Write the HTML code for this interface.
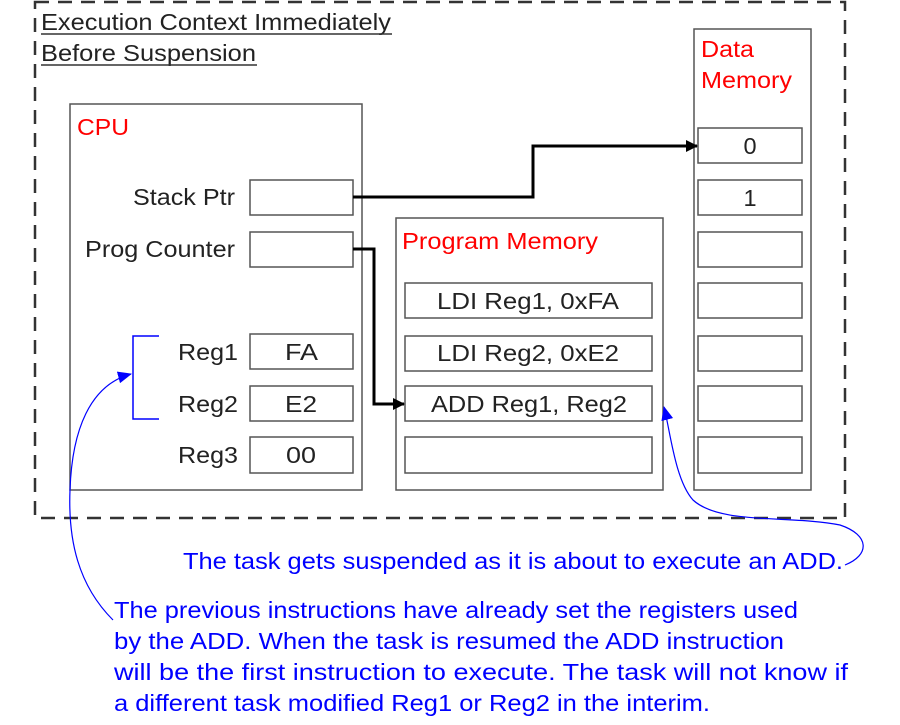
<!DOCTYPE html>
<html><head><style>
body{margin:0;background:#fff;}
svg text{font-family:"Liberation Sans",Arial,sans-serif;}
</style></head><body>
<svg width="900" height="720" viewBox="0 0 900 720" xmlns="http://www.w3.org/2000/svg">
<defs>
<marker id="ab" markerWidth="12" markerHeight="12" refX="11" refY="6" orient="auto" markerUnits="userSpaceOnUse"><path d="M0,0 L12,6 L0,12 z" fill="#000"/></marker>
<marker id="ablue" markerWidth="14" markerHeight="12" refX="13" refY="6" orient="auto" markerUnits="userSpaceOnUse"><path d="M0,0 L14,6 L0,12 z" fill="#0000ff"/></marker>
</defs>
<rect x="35" y="2" width="810" height="516" fill="none" stroke="#333" stroke-width="2.5" stroke-dasharray="14,9"/>
<g font-size="23.5" fill="#222">
<text x="41" y="30" textLength="350" lengthAdjust="spacingAndGlyphs">Execution Context Immediately</text>
<text x="41" y="61" textLength="215" lengthAdjust="spacingAndGlyphs">Before Suspension</text>
</g>
<line x1="41" y1="34" x2="392" y2="34" stroke="#333" stroke-width="1.5"/>
<line x1="41" y1="65" x2="257" y2="65" stroke="#333" stroke-width="1.5"/>

<g fill="#fff" stroke="#555" stroke-width="1.5">
<rect x="70" y="104" width="292" height="386"/>
<rect x="250" y="180" width="103" height="35"/>
<rect x="250" y="232" width="103" height="35"/>
<rect x="250" y="334" width="103" height="35"/>
<rect x="250" y="386" width="103" height="35"/>
<rect x="250" y="437" width="103" height="36"/>
<rect x="396" y="218" width="267" height="272"/>
<rect x="405" y="283" width="247" height="35"/>
<rect x="405" y="336" width="247" height="35"/>
<rect x="405" y="386" width="247" height="35"/>
<rect x="405" y="437" width="247" height="36"/>
<rect x="694" y="29" width="117" height="461"/>
<rect x="698" y="128" width="104" height="35"/>
<rect x="698" y="180" width="104" height="35"/>
<rect x="698" y="232" width="104" height="35"/>
<rect x="698" y="283" width="104" height="35"/>
<rect x="698" y="336" width="104" height="35"/>
<rect x="698" y="386" width="104" height="35"/>
<rect x="698" y="437" width="104" height="36"/>
</g>
<g font-size="23.5" fill="#ff0000">
<text x="77" y="135" textLength="52" lengthAdjust="spacingAndGlyphs">CPU</text>
<text x="402" y="249" textLength="196" lengthAdjust="spacingAndGlyphs">Program Memory</text>
<text x="701" y="57" textLength="53" lengthAdjust="spacingAndGlyphs">Data</text>
<text x="701" y="88" textLength="91" lengthAdjust="spacingAndGlyphs">Memory</text>
</g>
<g font-size="23.5" fill="#222">
<text x="133" y="205" textLength="102" lengthAdjust="spacingAndGlyphs">Stack Ptr</text>
<text x="85" y="257" textLength="150" lengthAdjust="spacingAndGlyphs">Prog Counter</text>
<text x="178" y="360" textLength="60" lengthAdjust="spacingAndGlyphs">Reg1</text>
<text x="178" y="412" textLength="60" lengthAdjust="spacingAndGlyphs">Reg2</text>
<text x="178" y="463" textLength="60" lengthAdjust="spacingAndGlyphs">Reg3</text>
<text x="285" y="360" textLength="33" lengthAdjust="spacingAndGlyphs">FA</text>
<text x="285" y="412" textLength="32" lengthAdjust="spacingAndGlyphs">E2</text>
<text x="286" y="463" textLength="30" lengthAdjust="spacingAndGlyphs">00</text>
<text x="437" y="309" textLength="182" lengthAdjust="spacingAndGlyphs">LDI Reg1, 0xFA</text>
<text x="437" y="361" textLength="182" lengthAdjust="spacingAndGlyphs">LDI Reg2, 0xE2</text>
<text x="431" y="412" textLength="196" lengthAdjust="spacingAndGlyphs">ADD Reg1, Reg2</text>
<text x="750" y="154" text-anchor="middle">0</text>
<text x="750" y="206" text-anchor="middle">1</text>
</g>
<polyline points="353,197 533,197 533,146 697,146" fill="none" stroke="#000" stroke-width="3" marker-end="url(#ab)"/>
<polyline points="353,249 374,249 374,404 404,404" fill="none" stroke="#000" stroke-width="3" marker-end="url(#ab)"/>

<polyline points="159,336 133,336 133,419 159,419" fill="none" stroke="#0000ff" stroke-width="1.5"/>
<path d="M113,620 C78,585 68,540 70,490 C72,430 90,385 131,374" fill="none" stroke="#0000ff" stroke-width="1.2" marker-end="url(#ablue)"/>
<path d="M845,565 C870,555 870,535 840,525 C790,515 720,525 693,500 C675,480 670,430 664,407" fill="none" stroke="#0000ff" stroke-width="1.2" marker-end="url(#ablue)"/>
<g font-size="23.5" fill="#0000ff">
<text x="183" y="569" textLength="660" lengthAdjust="spacingAndGlyphs">The task gets suspended as it is about to execute an ADD.</text>
<text x="114" y="618" textLength="684" lengthAdjust="spacingAndGlyphs">The previous instructions have already set the registers used</text>
<text x="114" y="649" textLength="670" lengthAdjust="spacingAndGlyphs">by the ADD.  When the task is resumed the ADD instruction</text>
<text x="114" y="680" textLength="734" lengthAdjust="spacingAndGlyphs">will be the first instruction to execute.  The task will not know if</text>
<text x="114" y="711" textLength="596" lengthAdjust="spacingAndGlyphs">a different task modified Reg1 or Reg2 in the interim.</text>
</g>
</svg>
</body></html>
